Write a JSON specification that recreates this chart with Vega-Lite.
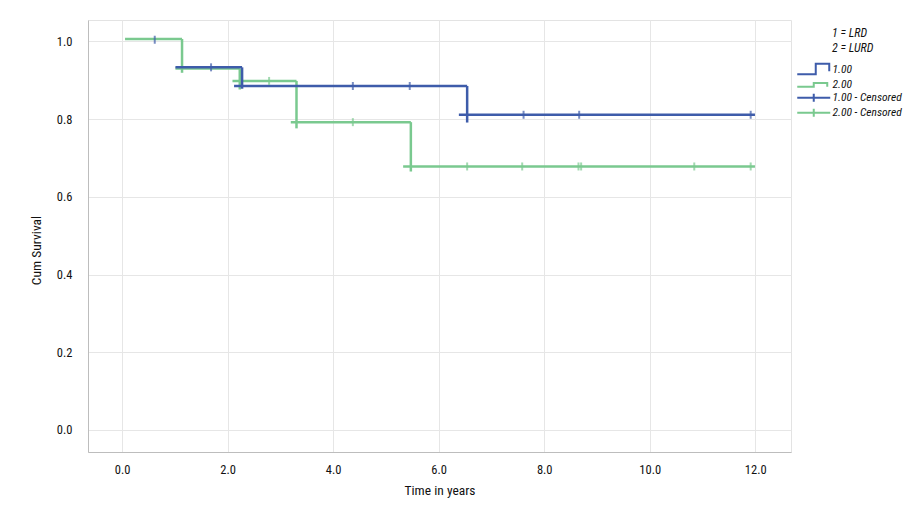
{
  "$schema": "https://vega.github.io/schema/vega-lite/v6.json",
  "width": 703,
  "height": 432,
  "autosize": {"type": "none"},
  "padding": {"left": 88, "top": 20, "right": 127, "bottom": 62},
  "background": "white",
  "config": {
    "font": "Liberation Sans Narrow, Roboto Condensed, Lato",
    "view": {"stroke": "#e3e3e3", "strokeWidth": 1},
    "axis": {
      "gridColor": "#e6e6e6",
      "domainColor": "#bdbdbd",
      "ticks": false,
      "labelFontSize": 12.5,
      "labelColor": "#111",
      "titleFontSize": 13.5,
      "titleFontWeight": "normal",
      "titleColor": "#111"
    }
  },
  "datasets": {
    "seg": [
      {"s": "2.00", "x": 0.057, "x2": 1.137, "y": 1.006, "y2": 1.006},
      {"s": "2.00", "x": 1.137, "x2": 1.137, "y": 1.006, "y2": 0.919},
      {"s": "2.00", "x": 1.012, "x2": 2.231, "y": 0.930, "y2": 0.930},
      {"s": "2.00", "x": 2.231, "x2": 2.231, "y": 0.930, "y2": 0.876},
      {"s": "2.00", "x": 2.093, "x2": 3.306, "y": 0.898, "y2": 0.898},
      {"s": "2.00", "x": 3.306, "x2": 3.306, "y": 0.898, "y2": 0.776},
      {"s": "2.00", "x": 3.198, "x2": 5.473, "y": 0.792, "y2": 0.792},
      {"s": "2.00", "x": 5.473, "x2": 5.473, "y": 0.792, "y2": 0.665},
      {"s": "2.00", "x": 5.327, "x2": 11.994, "y": 0.678, "y2": 0.678},
      {"s": "1.00", "x": 1.012, "x2": 2.275, "y": 0.933, "y2": 0.933},
      {"s": "1.00", "x": 2.275, "x2": 2.275, "y": 0.933, "y2": 0.878},
      {"s": "1.00", "x": 2.123, "x2": 6.540, "y": 0.885, "y2": 0.885},
      {"s": "1.00", "x": 6.540, "x2": 6.540, "y": 0.885, "y2": 0.791},
      {"s": "1.00", "x": 6.383, "x2": 11.994, "y": 0.811, "y2": 0.811}
    ],
    "cens": [
      {"s": "1.00 - Censored", "t": 0.620, "v": 1.004},
      {"s": "1.00 - Censored", "t": 1.687, "v": 0.933},
      {"s": "1.00 - Censored", "t": 4.374, "v": 0.885},
      {"s": "1.00 - Censored", "t": 5.452, "v": 0.885},
      {"s": "1.00 - Censored", "t": 7.609, "v": 0.811},
      {"s": "1.00 - Censored", "t": 8.663, "v": 0.811},
      {"s": "1.00 - Censored", "t": 11.913, "v": 0.811},
      {"s": "2.00 - Censored", "t": 2.787, "v": 0.898},
      {"s": "2.00 - Censored", "t": 4.374, "v": 0.792},
      {"s": "2.00 - Censored", "t": 6.540, "v": 0.678},
      {"s": "2.00 - Censored", "t": 7.583, "v": 0.678},
      {"s": "2.00 - Censored", "t": 8.650, "v": 0.678},
      {"s": "2.00 - Censored", "t": 8.700, "v": 0.678},
      {"s": "2.00 - Censored", "t": 10.844, "v": 0.678},
      {"s": "2.00 - Censored", "t": 11.913, "v": 0.678}
    ]
  },
  "resolve": {"legend": {"color": "independent"}},
  "layer": [
    {
      "data": {"name": "seg"},
      "mark": {"type": "rule", "strokeWidth": 2.5},
      "encoding": {
        "x": {
          "field": "x",
          "type": "quantitative",
          "scale": {"domain": [-0.645, 12.677], "nice": false, "zero": false},
          "axis": {
            "title": "Time in years",
            "values": [0, 2, 4, 6, 8, 10, 12],
            "format": ".1f",
            "labelPadding": 11,
            "titlePadding": 8
          }
        },
        "x2": {"field": "x2"},
        "y": {
          "field": "y",
          "type": "quantitative",
          "scale": {"domain": [-0.0566, 1.0548], "nice": false, "zero": false},
          "axis": {
            "title": "Cum Survival",
            "values": [0, 0.2, 0.4, 0.6, 0.8, 1.0],
            "format": ".1f",
            "labelPadding": 16,
            "titleX": -52,
            "titleY": 230,
            "titleAlign": "center",
            "titleBaseline": "middle",
            "titleAngle": -90
          }
        },
        "y2": {"field": "y2"},
        "color": {
          "field": "s",
          "type": "nominal",
          "scale": {
            "domain": ["1.00", "2.00", "1.00 - Censored", "2.00 - Censored"],
            "range": ["#3e5caa", "#7ac98f", "#3e5caa", "#7ac98f"]
          },
          "legend": {
            "title": ["1 = LRD", "2 = LURD"],
            "orient": "none",
            "legendX": 720,
            "legendY": 8,
            "padding": 0,
            "titleFontSize": 12,
            "titleFontStyle": "italic",
            "titleFontWeight": "normal",
            "titleLineHeight": 15,
            "titlePadding": 9,
            "titleColor": "#111",
            "labelFontSize": 11.5,
            "labelFontStyle": "italic",
            "labelColor": "#111",
            "labelOffset": 13,
            "rowPadding": -2,
            "symbolSize": 64,
            "symbolStrokeWidth": 2,
            "symbolFillColor": "transparent",
            "encode": {
              "title": {"update": {"dx": {"value": 24}}},
              "symbols": {
                "update": {
                  "shape": {"signal": "indexof(datum.value, 'Censored') >= 0 ? 'M-4.125,0H4.125M0,-1V1' : (datum.value == '1.00' ? 'M-4.125,1.125H0.5V-1.5H3.875V0.375' : 'M-4.125,0.5H0V-0.44H3.375V0.5')"},
                  "fill": {"value": "transparent"},
                  "fillOpacity": {"value": 0},
                  "stroke": {"scale": "color", "field": "value"},
                  "strokeWidth": {"value": 2},
                  "opacity": {"value": 1}
                }
              }
            }
          }
        }
      }
    },
    {
      "data": {"name": "cens"},
      "mark": {"type": "tick", "orient": "vertical", "size": 8, "thickness": 2},
      "encoding": {
        "x": {"field": "t", "type": "quantitative"},
        "y": {"field": "v", "type": "quantitative"},
        "color": {"field": "s", "type": "nominal", "legend": null}
      }
    }
  ]
}
